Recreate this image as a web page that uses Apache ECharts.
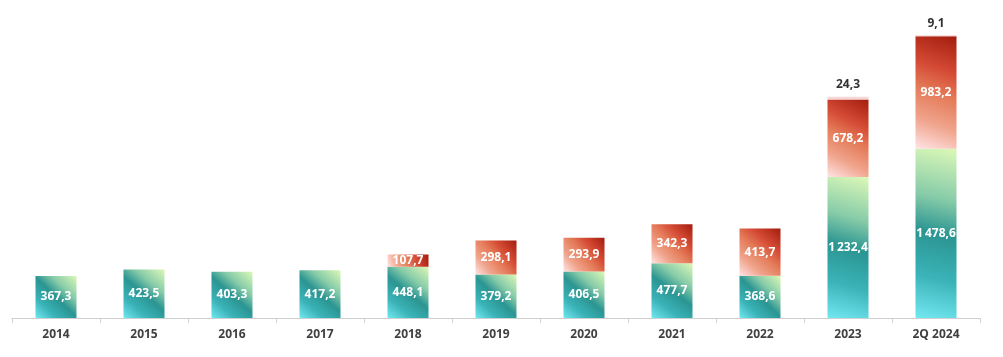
<!DOCTYPE html>
<html><head><meta charset="utf-8">
<script src="https://cdn.jsdelivr.net/npm/echarts@6/dist/echarts.min.js"></script>
<style>html,body{margin:0;padding:0;background:#fff}#c{width:1003px;height:357px}</style>
</head><body><div id="c"></div>
<script>
const categories = ['2014','2015','2016','2017','2018','2019','2020','2021','2022','2023','2Q 2024'];
const baseValues = [367.3,423.5,403.3,417.2,448.1,379.2,406.5,477.7,368.6,1232.4,1478.6];
const topValues = [null,null,null,null,107.7,298.1,293.9,342.3,413.7,678.2,983.2];
const extraValues = [null,null,null,null,null,null,null,null,null,24.3,9.1];

function fmt(v){
  const s = v.toFixed(1).split('.');
  const int = s[0].replace(/\B(?=(\d{3})+(?!\d))/g,'\u2009');
  return int + ',' + s[1];
}
const font = {fontFamily:'Open Sans', fontWeight:700, fontSize:12};
const tealGrad = new echarts.graphic.LinearGradient(1,0,0,1,[
  {offset:0,color:'#dcf8b8'},{offset:0.3,color:'#86cba8'},{offset:0.5,color:'#2b9592'},{offset:0.75,color:'#3ab3b8'},{offset:1,color:'#72e8f0'}]);
const redGrad = new echarts.graphic.LinearGradient(1,0,0,1,[
  {offset:0,color:'#a31c0d'},{offset:0.3,color:'#d44a34'},{offset:0.5,color:'#e47a58'},{offset:0.75,color:'#f0a48c'},{offset:1,color:'#ffe4e6'}]);

const chart = echarts.init(document.getElementById('c'));
chart.setOption({
  animation:false,
  grid:{left:12,right:23,top:32,bottom:39},
  xAxis:{type:'category',data:categories,
    axisLine:{lineStyle:{color:'#d0d0d0',width:1}},
    axisTick:{show:true,length:5,lineStyle:{color:'#d0d0d0'}},
    axisLabel:Object.assign({color:'#3f3f3f',margin:11},font)},
  yAxis:{type:'value',min:0,max:2500,show:false,splitLine:{show:false}},
  series:[
    {type:'bar',stack:'s',data:baseValues,barWidth:41,itemStyle:{color:tealGrad},
     label:Object.assign({show:true,position:'inside',color:'#fff',formatter:p=>fmt(p.value)},font)},
    {type:'bar',stack:'s',data:topValues,barWidth:41,itemStyle:{color:redGrad},
     label:Object.assign({show:true,position:'inside',color:'#fff',formatter:p=>p.value==null?'':fmt(p.value)},font)},
    {type:'bar',stack:'s',data:extraValues,barWidth:41,itemStyle:{color:'#f7d6d6'},
     label:Object.assign({show:true,position:'top',distance:6,color:'#333',formatter:p=>p.value==null?'':fmt(p.value)},font)}
  ]
});
</script></body></html>
